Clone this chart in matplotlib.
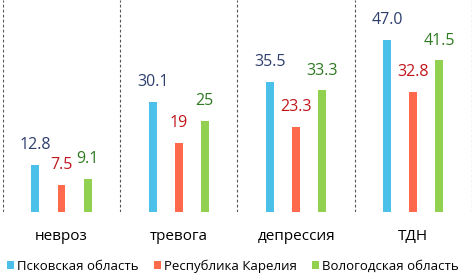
import matplotlib.pyplot as plt
import numpy as np

categories = ['невроз', 'тревога', 'депрессия', 'ТДН']
series = ['Псковская область', 'Республика Карелия', 'Вологодская область']
pskov = [12.8, 30.1, 35.5, 47.0]
karelia = [7.5, 19, 23.3, 32.8]
vologda = [9.1, 25, 33.3, 41.5]
labels_pskov = ['12.8', '30.1', '35.5', '47.0']
labels_karelia = ['7.5', '19', '23.3', '32.8']
labels_vologda = ['9.1', '25', '33.3', '41.5']

bar_colors = ['#4BC0E8', '#FF6A4D', '#92D050']
text_colors = ['#2E3F6E', '#C0161B', '#2F7A22']

plt.rcParams['font.family'] = ['Open Sans', 'DejaVu Sans']

fig = plt.figure(figsize=(4.73, 2.74), dpi=100)
ax = fig.add_axes([0.006, 0.226, 0.992, 0.774])

x = np.arange(len(categories))
step = 0.222
width = 0.068
data = [pskov, karelia, vologda]
labs = [labels_pskov, labels_karelia, labels_vologda]
for i, (vals, lab) in enumerate(zip(data, labs)):
    xs = x + (i - 1) * step
    ax.bar(xs, vals, width=width, color=bar_colors[i], label=series[i])
    for xx, v, t in zip(xs, vals, lab):
        ax.annotate(t, (xx, v), xytext=(0, 8.5), textcoords='offset points',
                    ha='center', va='bottom', fontsize=11.5, color=text_colors[i])

for b in [-0.5, 0.5, 1.5, 2.5, 3.5]:
    ax.axvline(b, color='#555555', lw=0.8, ls=(0, (2.5, 2)))

ax.set_xlim(-0.5, 3.5)
ax.set_ylim(0, 58)
ax.set_yticks([])
ax.set_xticks(x)
ax.set_xticklabels(categories, fontsize=11)
ax.tick_params(axis='x', length=0, pad=12)
for s in ax.spines.values():
    s.set_visible(False)

fig.legend(loc='lower left', bbox_to_anchor=(7 / 473, 0.005), ncol=3, frameon=False,
           fontsize=9.5, handlelength=0.55, handleheight=0.55, handletextpad=0.2,
           columnspacing=1.15, borderaxespad=0, borderpad=0)

fig.savefig('out.png', dpi=100)
